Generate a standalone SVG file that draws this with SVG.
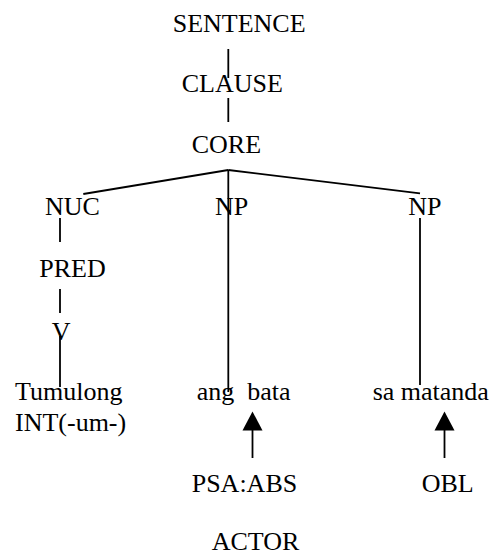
<svg xmlns="http://www.w3.org/2000/svg" width="493" height="555" viewBox="0 0 493 555">
<defs>
<style>
text{font-family:"Times New Roman",Times,"Liberation Serif",serif;font-size:26px;fill:#000;white-space:pre}
.l{stroke:#000;stroke-width:1.8;fill:none}
</style>
</defs>
<rect width="493" height="555" fill="#fff"/>
<g id="connectors">
<line class="l" x1="228.3" y1="49" x2="228.3" y2="78"/>
<line class="l" x1="228.3" y1="98" x2="228.3" y2="122"/>
<line class="l" x1="228.3" y1="170" x2="83.3" y2="194"/>
<line class="l" x1="228.3" y1="170" x2="420" y2="193.3"/>
<line class="l" x1="228.3" y1="170" x2="228.3" y2="392"/>
<line class="l" x1="60" y1="218" x2="60" y2="242"/>
<line class="l" x1="60" y1="289" x2="60" y2="313"/>
<line class="l" x1="60" y1="336" x2="60" y2="387"/>
<line class="l" x1="420" y1="218" x2="420" y2="385"/>
<line class="l" x1="252.5" y1="458" x2="252.5" y2="430"/>
<path d="M242.5,430.5 L252.5,411.5 L262.5,430.5 Z" fill="#000"/>
<line class="l" x1="444.5" y1="458" x2="444.5" y2="430"/>
<path d="M434.5,430.5 L444.5,411.5 L454.5,430.5 Z" fill="#000"/>
</g>
<g id="sentence"><text x="172.7" y="31.7">SENTENCE</text></g>
<g id="clause"><text x="181.7" y="91.7">CLAUSE</text></g>
<g id="core"><text x="191.7" y="153.3">CORE</text></g>
<g id="nuc"><text x="45" y="215">NUC</text></g>
<g id="np1"><text x="215" y="215">NP</text></g>
<g id="np2"><text x="408.3" y="215">NP</text></g>
<g id="pred"><text x="39.3" y="276.7">PRED</text></g>
<g id="v"><text x="51.7" y="340">V</text></g>
<g id="tumulong"><text x="15" y="400">Tumulong</text><text x="15" y="430.7">INT(-um-)</text></g>
<g id="angbata"><text x="196.7" y="400">ang  bata</text></g>
<g id="samatanda"><text x="372.7" y="400">sa matanda</text></g>
<g id="psaabs"><text x="191.7" y="491.7">PSA:ABS</text></g>
<g id="obl"><text x="421.7" y="491.7">OBL</text></g>
<g id="actor"><text x="211.7" y="550">ACTOR</text></g>
</svg>
